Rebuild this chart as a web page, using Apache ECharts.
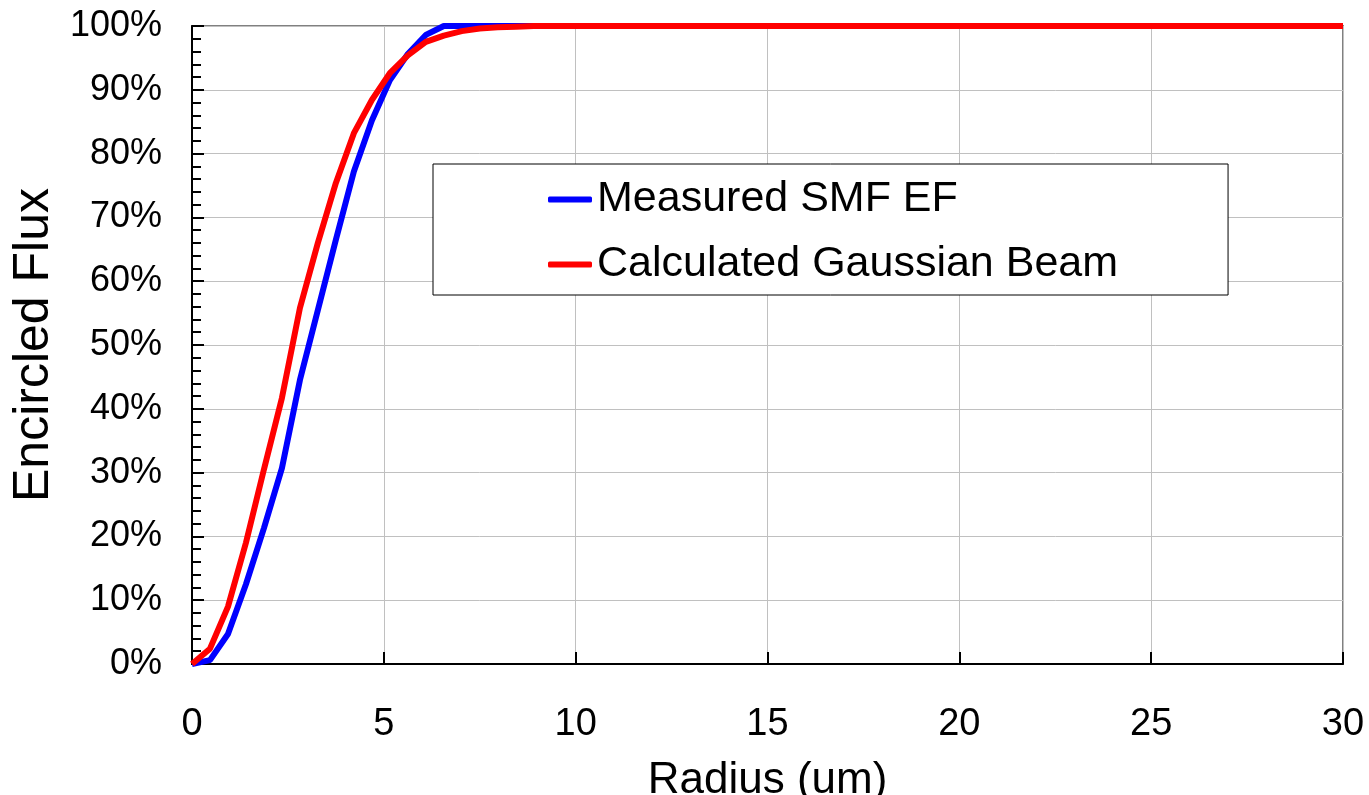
<!DOCTYPE html>
<html>
<head>
<meta charset="utf-8">
<script src="https://cdn.jsdelivr.net/npm/echarts@6/dist/echarts.min.js"></script>
<style>
html,body{margin:0;padding:0;background:#fff;overflow:hidden;}
#chart{width:1369px;height:795px;}
</style>
</head>
<body>
<div id="chart"></div>
<script>
const radius = [0, 0.469, 0.938, 1.406, 1.875, 2.344, 2.813, 3.281, 3.75, 4.219, 4.688, 5.156, 5.625, 6.094, 6.563, 7.031, 7.5, 7.969, 8.438, 8.906, 9.375, 10, 15, 20, 25, 30];
const measuredSMF = [0, 0.6, 4.7, 12.5, 21.3, 30.7, 44.5, 55.5, 66.5, 77.2, 85.2, 91.5, 95.6, 98.6, 100, 100, 100, 100, 100, 100, 100, 100, 100, 100, 100, 100];
const calculatedGauss = [0, 2.4, 9.0, 19.0, 30.5, 41.7, 55.8, 66.0, 75.4, 83.2, 88.4, 92.6, 95.4, 97.5, 98.5, 99.2, 99.6, 99.8, 99.9, 100, 100, 100, 100, 100, 100, 100];
const seriesNames = ['Measured SMF EF', 'Calculated Gaussian Beam'];
const xTicks = [0, 5, 10, 15, 20, 25, 30];

const font = 'Liberation Sans, Arial, sans-serif';
const chart = echarts.init(document.getElementById('chart'), null, {renderer: 'canvas', width: 1369, height: 795});
const pairs = (xs, ys) => xs.map((x, i) => [x, ys[i]]);

chart.setOption({
  animation: false,
  backgroundColor: '#fff',
  grid: {left: 192, width: 1151, top: 26, height: 638, containLabel: false, outerBoundsMode: 'none',
         show: true, borderColor: '#808080', borderWidth: 2, backgroundColor: 'transparent'},
  legend: {
    data: seriesNames,
    orient: 'vertical',
    left: 433, top: 164,
    padding: [14, 110, 9, 115],
    itemGap: 22,
    itemWidth: 44, itemHeight: 6,
    icon: 'roundRect',
    backgroundColor: '#fff',
    borderColor: '#000', borderWidth: 1,
    textStyle: {fontFamily: font, fontSize: 43, color: '#000'},
    itemStyle: {borderWidth: 0}
  },
  xAxis: {
    type: 'value', min: xTicks[0], max: xTicks[xTicks.length - 1], interval: 5,
    name: 'Radius (um)', nameLocation: 'middle', nameGap: 95,
    nameTextStyle: {fontFamily: font, fontSize: 44, color: '#000'},
    axisLine: {show: true, onZero: false, lineStyle: {color: '#000', width: 2}},
    axisTick: {show: true, inside: true, length: 12, lineStyle: {color: '#000', width: 2}},
    axisLabel: {fontFamily: font, fontSize: 38, color: '#000', margin: 42},
    splitLine: {show: true, lineStyle: {color: '#c0c0c0', width: 1}}
  },
  yAxis: {
    type: 'value', min: 0, max: 100, interval: 10,
    name: 'Encircled Flux', nameLocation: 'middle', nameGap: 129, nameRotate: 90,
    nameTextStyle: {fontFamily: font, fontSize: 50, color: '#000'},
    axisLine: {show: true, lineStyle: {color: '#000', width: 2}},
    axisTick: {show: true, inside: true, length: 12, lineStyle: {color: '#000', width: 2}},
    minorTick: {show: true, splitNumber: 5, length: 9, lineStyle: {color: '#000', width: 2}},
    axisLabel: {fontFamily: font, fontSize: 36, color: '#000', margin: 30, formatter: '{value}%'},
    splitLine: {show: true, lineStyle: {color: '#c0c0c0', width: 1}}
  },
  series: [
    {name: seriesNames[0], type: 'line', data: pairs(radius, measuredSMF), showSymbol: false, symbol: 'none', clip: false,
     lineStyle: {color: '#0000ff', width: 6}, itemStyle: {color: '#0000ff'}, z: 3},
    {name: seriesNames[1], type: 'line', data: pairs(radius, calculatedGauss), showSymbol: false, symbol: 'none', clip: false,
     lineStyle: {color: '#ff0000', width: 6}, itemStyle: {color: '#ff0000'}, z: 4}
  ]
});
</script>
</body>
</html>
